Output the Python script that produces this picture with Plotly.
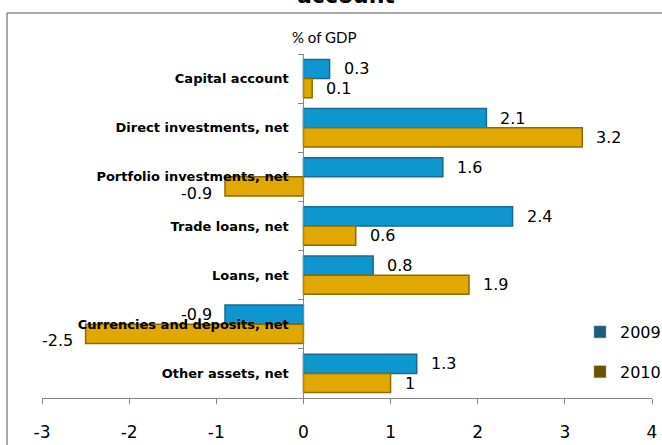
import plotly.graph_objects as go

categories = ["Capital account", "Direct investments, net", "Portfolio investments, net",
              "Trade loans, net", "Loans, net", "Currencies and deposits, net", "Other assets, net"]
values_2009 = [0.3, 2.1, 1.6, 2.4, 0.8, -0.9, 1.3]
values_2010 = [0.1, 3.2, -0.9, 0.6, 1.9, -2.5, 1]
series_names = ["2009", "2010"]
x_ticks = [-3, -2, -1, 0, 1, 2, 3, 4]

W, H = 662, 445
ML, MR, MT, MB = 42, 10, 54, 47
PW, PH = W - ML - MR, H - MT - MB

def px_x(p):
    return (p - ML) / PW

def px_y(p):
    return (H - MB - p) / PH

fill = ["#0E97CE", "#E0A800"]
edge = ["#1A6A8E", "#8C6C00"]
legend_col = ["#1D5E7E", "#6B5400"]

fig = go.Figure()
for k, vals in enumerate([values_2009, values_2010]):
    fig.add_trace(go.Bar(
        y=categories, x=vals, orientation="h", name=series_names[k],
        marker=dict(color=fill[k], line=dict(color=edge[k], width=1.5)),
        showlegend=False, hoverinfo="x+y",
    ))
for k in range(2):
    fig.add_trace(go.Scatter(
        x=[None], y=[None], mode="markers", name=series_names[k],
        marker=dict(symbol="square", size=12, color=legend_col[k],
                    line=dict(color="#9a9a9a", width=0.5)),
        legendgroup=series_names[k],
    ))

annotations = []
for k, vals in enumerate([values_2009, values_2010]):
    off = -0.195 if k == 0 else 0.195
    for i, v in enumerate(vals):
        annotations.append(dict(
            x=v, y=i + off, xref="x", yref="y", text=f"{v:g}", showarrow=False,
            xanchor="left" if v >= 0 else "right", xshift=12 if v >= 0 else -11,
            yshift=0 if (v >= 0 or k == 0) else -7,
            font=dict(family="DejaVu Sans", size=16, color="#000"),
        ))

annotations.append(dict(x=px_x(324), y=px_y(37), xref="paper", yref="paper", text="% of GDP",
                        xanchor="center", yanchor="middle",
                        showarrow=False, font=dict(family="Lato", size=15, color="#000")))
annotations.append(dict(x=px_x(346), y=px_y(10), xref="paper", yref="paper", text="account",
                        showarrow=False, xanchor="center", yanchor="bottom",
                        font=dict(family="DejaVu Sans", size=22, color="#000", weight="bold")))

shapes = [
    dict(type="line", xref="paper", yref="paper", x0=px_x(7), x1=px_x(700), y0=px_y(13), y1=px_y(13),
         line=dict(color="#8c8c8c", width=1.5)),
    dict(type="line", xref="paper", yref="paper", x0=px_x(7), x1=px_x(7), y0=px_y(13), y1=px_y(460),
         line=dict(color="#8c8c8c", width=1.5)),
]

fig.update_layout(
    width=W, height=H, margin=dict(l=ML, r=MR, t=MT, b=MB, autoexpand=False),
    paper_bgcolor="white", plot_bgcolor="white",
    barmode="group", bargap=0.22, bargroupgap=0,
    annotations=annotations, shapes=shapes,
    legend=dict(x=px_x(580), y=px_y(315), xanchor="left", yanchor="top",
                font=dict(family="DejaVu Sans", size=16, color="#000"),
                tracegroupgap=16, bgcolor="rgba(0,0,0,0)"),
    xaxis=dict(range=[-3, 4], tickvals=x_ticks, ticktext=[str(t) for t in x_ticks],
               automargin=False,
               showgrid=False, zeroline=False, showline=True, linecolor="#868686", linewidth=1.2,
               ticks="outside", ticklen=5, tickcolor="#868686",
               tickfont=dict(family="DejaVu Sans", size=17, color="#000"),
               ticklabelstandoff=13),
    yaxis=dict(categoryorder="array", categoryarray=categories, autorange="reversed",
               automargin=False,
               anchor="free", position=3 / 7, showgrid=False, zeroline=False,
               showline=True, linecolor="#868686", linewidth=1.2,
               ticks="outside", ticklen=5, tickcolor="#868686", tickson="boundaries",
               tickfont=dict(family="DejaVu Sans", size=13, color="#000", weight="bold"),
               ticklabelstandoff=12),
)

fig.write_html("out.html", post_script="document.body.style.margin='0';",
               config={"displayModeBar": False})
